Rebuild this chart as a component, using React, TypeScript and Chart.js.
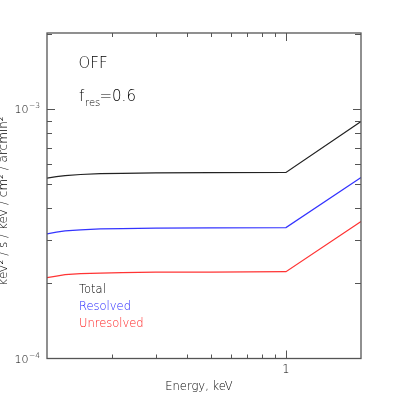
import React, { useEffect, useRef } from "react";
import { Chart, registerables } from "chart.js";

Chart.register(...registerables);

const energy = [0.11, 0.12, 0.13, 0.15, 0.18, 0.22, 0.3, 0.5, 1.0, 2.0];
const total = [5.29e-4, 5.36e-4, 5.41e-4, 5.47e-4, 5.51e-4, 5.53e-4, 5.55e-4, 5.56e-4, 5.57e-4, 8.92e-4];
const resolved = [3.16e-4, 3.21e-4, 3.25e-4, 3.28e-4, 3.31e-4, 3.32e-4, 3.33e-4, 3.34e-4, 3.35e-4, 5.32e-4];
const unresolved = [2.11e-4, 2.14e-4, 2.17e-4, 2.19e-4, 2.2e-4, 2.21e-4, 2.22e-4, 2.22e-4, 2.23e-4, 3.54e-4];

const seriesNames = ["Total", "Resolved", "Unresolved"];
const seriesColors = ["#222222", "#3434ff", "#ff3434"];
const labelColors = ["#000000", "#1a1aff", "#ff1a1a"];
const xMajorTicks = [1];
const xMinorTicks = [0.2, 0.3, 0.4, 0.5, 0.6, 0.7, 0.8, 0.9, 2];
const yMajorTicks = [1e-4, 1e-3];
const yMajorLabels = ["10", "10"];
const yMajorExps = ["\u22124", "\u22123"];
const yMinorTicks = [2e-4, 3e-4, 4e-4, 5e-4, 6e-4, 7e-4, 8e-4, 9e-4, 2e-3];

const FONT = "'DejaVu Sans', sans-serif";
const W = "200";
const AXIS = "#555555";
const TEXT = "#000000";

const decor = {
  id: "decor",
  afterDraw(chart: any) {
    const ctx = chart.ctx;
    const { left, right, top, bottom } = chart.chartArea;
    const xs = chart.scales.x;
    const ys = chart.scales.y;
    ctx.save();
    ctx.strokeStyle = AXIS;
    ctx.lineWidth = 1.3;
    ctx.strokeRect(left, top, right - left, bottom - top);
    ctx.lineWidth = 1;
    ctx.beginPath();
    const xt = (v: number, len: number) => {
      const px = Math.round(xs.getPixelForValue(v)) + 0.5;
      if (px <= left + 1 || px >= right - 1) return;
      ctx.moveTo(px, bottom);
      ctx.lineTo(px, bottom - len);
      ctx.moveTo(px, top);
      ctx.lineTo(px, top + len);
    };
    const yt = (v: number, len: number, lenR: number) => {
      const py = Math.round(ys.getPixelForValue(v)) + 0.5;
      if (py <= top + 1 || py >= bottom - 1) return;
      ctx.moveTo(left, py);
      ctx.lineTo(left + len, py);
      ctx.moveTo(right, py);
      ctx.lineTo(right - lenR, py);
    };
    xMajorTicks.forEach((v) => xt(v, 8));
    xMinorTicks.forEach((v) => xt(v, 4));
    yMajorTicks.forEach((v) => yt(v, 8, 8));
    yMinorTicks.forEach((v) => yt(v, 5, 6));
    ctx.stroke();

    // tick labels
    ctx.fillStyle = TEXT;
    ctx.textBaseline = "alphabetic";
    yMajorTicks.forEach((v, i) => {
      const py = ys.getPixelForValue(v);
      ctx.font = `${W} 7.5px ${FONT}`;
      const ew = ctx.measureText(yMajorExps[i]).width;
      ctx.textAlign = "right";
      ctx.fillText(yMajorExps[i], 40, py - 1);
      ctx.font = `${W} 11px ${FONT}`;
      ctx.fillText(yMajorLabels[i], 40 - ew - 0.5, py + 4);
    });
    ctx.font = `${W} 11.5px ${FONT}`;
    ctx.textAlign = "center";
    xMajorTicks.forEach((v) => {
      ctx.fillText(String(v), xs.getPixelForValue(v), 373);
    });
    ctx.font = `${W} 11.5px ${FONT}`;
    ctx.fillText("Energy, keV", 199, 390);

    // y title
    ctx.save();
    ctx.translate(6.5, 201);
    ctx.rotate(-Math.PI / 2);
    ctx.font = `${W} 12px ${FONT}`;
    ctx.textAlign = "center";
    ctx.fillText("keV\u00b2 / s / keV / cm\u00b2 / arcmin\u00b2", 0, 0);
    ctx.restore();

    // annotations
    ctx.textAlign = "left";
    ctx.font = `${W} 15px ${FONT}`;
    ctx.fillText("OFF", 78.5, 68);
    ctx.fillText("f", 79, 101);
    ctx.font = `${W} 10px ${FONT}`;
    ctx.fillText("res", 85, 106);
    ctx.font = `${W} 15px ${FONT}`;
    ctx.fillText("=0.6", 99.5, 101);

    // legend
    ctx.font = `${W} 11.5px ${FONT}`;
    seriesNames.forEach((n, i) => {
      ctx.fillStyle = labelColors[i];
      ctx.fillText(n, 79, 293 + i * 16.8);
    });
    ctx.restore();
  },
};

export default function App() {
  const ref = useRef<HTMLCanvasElement>(null);
  useEffect(() => {
    if (!ref.current) return;
    const all = [total, resolved, unresolved];
    const chart = new Chart(ref.current, {
      type: "line",
      data: {
        datasets: all.map((arr, i) => ({
          label: seriesNames[i],
          data: energy.map((e, j) => ({ x: e, y: arr[j] })),
          borderColor: seriesColors[i],
          borderWidth: 1.2,
          pointRadius: 0,
          tension: 0,
          fill: false,
        })),
      },
      options: {
        responsive: false,
        animation: false,
        layout: { padding: { left: 47, right: 34, top: 33, bottom: 43.5 } },
        plugins: { legend: { display: false }, tooltip: { enabled: false } },
        scales: {
          x: { type: "logarithmic", min: 0.11, max: 2.0, display: false },
          y: { type: "logarithmic", min: 1e-4, max: 2.02e-3, display: false },
        },
      },
      plugins: [decor],
    });
    return () => chart.destroy();
  }, []);
  return (
    <div style={{ position: "fixed", left: 0, top: 0, width: 395, height: 402, background: "#fff" }}>
      <canvas ref={ref} width={395} height={402} />
    </div>
  );
}
